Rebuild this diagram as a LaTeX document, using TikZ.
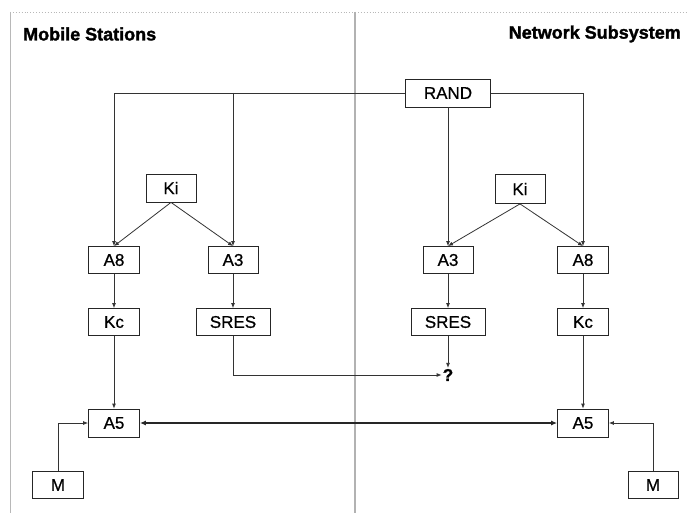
\documentclass[tikz,border=0pt]{standalone}
\usepackage{fontspec}
\setmainfont{Liberation Sans}
\newfontfamily\headfont[FakeBold=1.6]{Liberation Sans Bold}
\newfontfamily\boxfont[FakeBold=0.7]{Liberation Sans}
\usetikzlibrary{arrows.meta}

\begin{document}
\begin{tikzpicture}[x=1pt,y=-1pt,
  box/.style={draw=black!85,line width=0.8pt,minimum height=27pt,inner sep=0pt,
    font=\boxfont\fontsize{17}{17}\selectfont},
  conn/.style={draw=black!80,line width=0.8pt,-{Latex[length=5pt,width=4pt]}},
  link/.style={draw=black!85,line width=1.6pt,{Latex[length=6pt,width=5pt]}-{Latex[length=6pt,width=5pt]}},
  frameline/.style={draw=black!28,line width=0.9pt},
  heading/.style={font=\headfont\fontsize{18}{18}\selectfont,inner sep=0pt}]

% canvas
\useasboundingbox (0,0) rectangle (687,513);
\fill[white] (0,0) rectangle (687,513);

% frame and divider
\draw[frameline,dotted] (10,12) -- (687,12);
\draw[frameline] (10,12) -- (10,513);
\draw[draw=black!30,line width=1.4pt] (355,12) -- (355,513);

% headings
\node[heading,anchor=west] (hms) at (23,34) {Mobile Stations};
\node[heading,anchor=east] (hns) at (681,34) {Network Subsystem};

% shared challenge
\node[box,minimum width=85pt,minimum height=28pt] (rand) at (448,93) {RAND};

% mobile station side
\node[box,minimum width=50pt,minimum height=28pt] (kil) at (171,188) {Ki};
\node[box,minimum width=51pt] (a8l) at (114,260) {A8};
\node[box,minimum width=50pt] (a3l) at (233,260) {A3};
\node[box,minimum width=51pt] (kcl) at (114,322) {Kc};
\node[box,minimum width=74pt] (sresl) at (233,322) {SRES};
\node[box,minimum width=51pt,minimum height=28pt] (a5l) at (114,423) {A5};
\node[box,minimum width=51pt,minimum height=27pt] (ml) at (58,485) {M};

% network side
\node[box,minimum width=50pt,minimum height=29pt] (kir) at (520,189) {Ki};
\node[box,minimum width=50pt] (a3r) at (448,260) {A3};
\node[box,minimum width=51pt] (a8r) at (583,260) {A8};
\node[box,minimum width=74pt] (sresr) at (448,322) {SRES};
\node[box,minimum width=51pt] (kcr) at (583,322) {Kc};
\node[box,minimum width=51pt,minimum height=28pt] (a5r) at (583,423) {A5};
\node[box,minimum width=50pt,minimum height=27pt] (mr) at (653,485) {M};

% comparison point
\node[font=\headfont\fontsize{17}{17}\selectfont,inner sep=1pt] (q) at (448,375) {?};

% RAND distribution
\draw[conn] (rand.west) -| (a8l.north);
\draw[conn] (rand.west -| a3l.north) -- (a3l.north);
\draw[conn] (rand.east) -| (a8r.north);
\draw[conn] (rand.south) -- (a3r.north);

% Ki inputs
\draw[conn] (kil.south) -- (a8l.north);
\draw[conn] (kil.south) -- (a3l.north);
\draw[conn] (kir.south) -- (a3r.north);
\draw[conn] (kir.south) -- (a8r.north);

% algorithm outputs
\draw[conn] (a8l) -- (kcl);
\draw[conn] (a3l) -- (sresl);
\draw[conn] (a3r) -- (sresr);
\draw[conn] (a8r) -- (kcr);
\draw[conn] (kcl) -- (a5l);
\draw[conn] (kcr) -- (a5r);

% response check
\draw[conn] (sresl.south) |- (q.west);
\draw[conn] (sresr.south) -- (q.north);

% message inputs
\draw[conn] (ml.north) |- (a5l.west);
\draw[conn] (mr.north) |- (a5r.east);

% ciphered link
\draw[link] (a5l.east) -- (a5r.west);
\end{tikzpicture}
\end{document}
